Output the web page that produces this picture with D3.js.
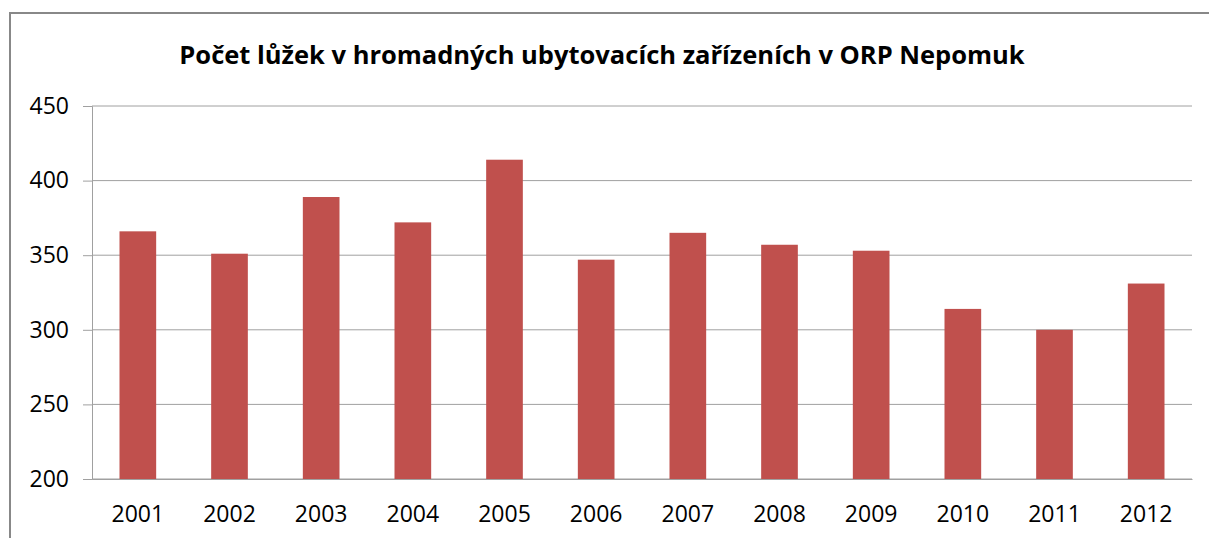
<!DOCTYPE html>
<html>
<head>
<meta charset="utf-8">
<script src="https://cdn.jsdelivr.net/npm/d3@7"></script>
<style>
  body { margin: 0; background: #fff; }
  svg { display: block; }
</style>
</head>
<body>
<div id="chart"></div>
<script>
var svgWidth = 1209;
var svgHeight = 538;

var years = ["2001", "2002", "2003", "2004", "2005", "2006",
  "2007", "2008", "2009", "2010", "2011", "2012"];
var beds = [366, 351, 389, 372, 414, 347, 365, 357, 353, 314, 300, 331];
var yTicks = [200, 250, 300, 350, 400, 450];

var margin = { top: 106, right: 17, bottom: 59, left: 92 };
var width = svgWidth - margin.left - margin.right;
var height = svgHeight - margin.top - margin.bottom;

var svg = d3.select("#chart")
  .append("svg")
  .attr("width", svgWidth)
  .attr("height", svgHeight);

// outer chart frame (runs off the right and bottom edges)
svg.append("rect")
  .attr("x", 10)
  .attr("y", 13)
  .attr("width", svgWidth + 20)
  .attr("height", svgHeight + 20)
  .attr("fill", "none")
  .attr("stroke", "#888")
  .attr("stroke-width", 2);

svg.append("text")
  .attr("x", 602)
  .attr("y", 64)
  .attr("text-anchor", "middle")
  .attr("font-family", "Open Sans, sans-serif")
  .attr("font-weight", "bold")
  .attr("font-size", "25.5px")
  .attr("fill", "#000")
  .text("Počet lůžek v hromadných ubytovacích zařízeních v ORP Nepomuk");

var chartGroup = svg.append("g")
  .attr("transform", `translate(${margin.left}, ${margin.top})`);

var xScale = d3.scaleBand()
  .domain(years)
  .range([0, width])
  .paddingInner(0.6)
  .paddingOuter(0.3);

var yScale = d3.scaleLinear()
  .domain([200, 450])
  .range([height, 0]);

// horizontal gridlines
chartGroup.append("g")
  .selectAll("line")
  .data(yTicks)
  .enter()
  .append("line")
  .attr("x1", 0)
  .attr("x2", width)
  .attr("y1", d => yScale(d))
  .attr("y2", d => yScale(d))
  .attr("stroke", "#a0a0a0")
  .attr("stroke-width", 1);

// bars
chartGroup.selectAll("rect.bar")
  .data(beds)
  .enter()
  .append("rect")
  .attr("class", "bar")
  .attr("x", (d, i) => xScale(years[i]))
  .attr("y", d => yScale(d))
  .attr("width", xScale.bandwidth())
  .attr("height", d => height - yScale(d))
  .attr("fill", "#c0504d");

// y axis
var leftAxis = d3.axisLeft(yScale)
  .tickValues(yTicks)
  .tickSize(9)
  .tickPadding(14);

var yAxis = chartGroup.append("g")
  .call(leftAxis);
yAxis.select(".domain").attr("stroke", "#a0a0a0");
yAxis.selectAll(".tick line").attr("stroke", "#a0a0a0");
yAxis.selectAll("text")
  .attr("font-family", "Open Sans, sans-serif")
  .attr("font-size", "23px")
  .attr("fill", "#000");

// x axis labels
var bottomAxis = d3.axisBottom(xScale).tickSize(0).tickPadding(27);
var xAxis = chartGroup.append("g")
  .attr("transform", `translate(0, ${height})`)
  .call(bottomAxis);
xAxis.select(".domain").attr("stroke", "#a0a0a0");
xAxis.selectAll("text")
  .attr("font-family", "Open Sans, sans-serif")
  .attr("font-size", "23px")
  .attr("fill", "#000");
</script>
</body>
</html>
